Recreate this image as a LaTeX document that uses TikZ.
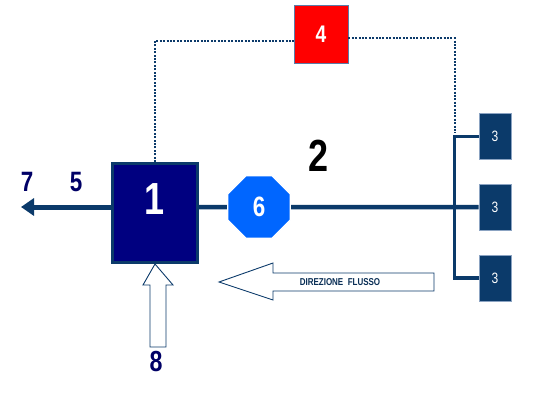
\documentclass[tikz,border=0pt]{standalone}
\usepackage{fontspec}
\setmainfont{Liberation Sans}
\newfontfamily\narrowsf[FakeStretch=0.8]{Liberation Sans}
\usepackage{tikz}
\usetikzlibrary{positioning,arrows.meta,shapes.geometric,calc}
\definecolor{inknavy}{HTML}{000066}
\definecolor{boxnavy}{HTML}{000080}
\definecolor{pipeblue}{HTML}{0B3A6A}
\definecolor{valveblue}{HTML}{0066FF}
\definecolor{ctrlred}{HTML}{FF0000}
\definecolor{edgeblue}{HTML}{5A7CA8}
\newcommand{\numfont}[1]{\fontsize{#1}{#1}\selectfont\narrowsf\bfseries}
\tikzset{
  pl/.style={align=center, inner sep=0pt, text=white},
  pl main/.style={pl, draw=pipeblue, fill=boxnavy, line width=3pt, minimum width=85pt, minimum height=99pt, font=\numfont{45}},
  pl ctrl/.style={pl, draw=edgeblue, fill=ctrlred, line width=0.8pt, minimum width=54pt, minimum height=58pt, font=\numfont{24}},
  pl valve/.style={pl, regular polygon, regular polygon sides=8, minimum size=68pt, draw=white, line width=1.5pt, fill=valveblue, font=\numfont{28}},
  pl user/.style={pl, draw=edgeblue!70, fill=pipeblue, line width=0.6pt, minimum width=32pt, minimum height=46pt, font=\fontsize{15}{15}\selectfont\narrowsf},
  pl pipe/.style={pipeblue, line width=4.5pt},
  pl branch/.style={pipeblue, line width=3.5pt},
  pl out/.style={pipeblue, line width=5pt, -{Triangle[length=13pt, width=17pt]}},
  pl dots/.style={pipeblue, line width=2.2pt, dash pattern=on 2pt off 1.4pt},
  pl hollow/.style={draw=pipeblue, line width=0.9pt, fill=white, line join=miter},
  pl num/.style={text=inknavy, inner sep=0pt, font=\numfont{28}},
}
\begin{document}
\begin{tikzpicture}[x=1pt, y=-1pt]
  \useasboundingbox (0,0) rectangle (550,400);
  % plant blocks
  \node[pl main] (b1) at (155,213) {\raisebox{28pt}{1}};
  \node[pl ctrl] (b4) at (321,34) {4};
  \node[pl valve] (oct) at (259,207) {6};
  \node[pl user] (b3a) at (495,136.5) {3};
  \node[pl user] (b3b) at (495,207) {3};
  \node[pl user] (b3c) at (495,278) {3};
  \coordinate (out) at (21,207);
  \coordinate (jt) at ([xshift=-24pt]b3a.west);
  % pipes
  \draw[pl out] (b1.west |- out) -- (out);
  \draw[pl pipe] (b1.east |- out) -- (oct) -- (b3b.west);
  \draw[pl branch] (b3a.west) -- (jt) |- (b3c.west);
  % control line
  \draw[pl dots] (b1.north) |- ([yshift=-7pt]b4.west);
  \draw[pl dots] ([yshift=-4pt]b4.east) -| ([yshift=4pt]jt);
  % flow direction and inlet
  \draw[pl hollow] (219,282) -- (273,263) -- (273,273) -- (434,273) -- (434,291) -- (273,291) -- (273,300) -- cycle;
  \node[text=pipeblue!80!black, font=\fontsize{10}{10}\selectfont\narrowsf\bfseries] (flow) at (340,282) {DIREZIONE\ \ FLUSSO};
  \draw[pl hollow] (b1.south) -- ++(18,21) -- ++(-7,0) -- ++(0,62) -- ++(-16,0) -- ++(0,-62) -- ++(-7,0) -- cycle;
  % labels
  \node[pl num] (l7) at (27,182) {7};
  \node[pl num] (l5) at (76,182) {5};
  \node[pl num, font=\numfont{29}] (l8) at (156,362) {8};
  \node[pl num, text=black, font=\numfont{45}] (l2) at (319,156) {2};
\end{tikzpicture}
\end{document}
